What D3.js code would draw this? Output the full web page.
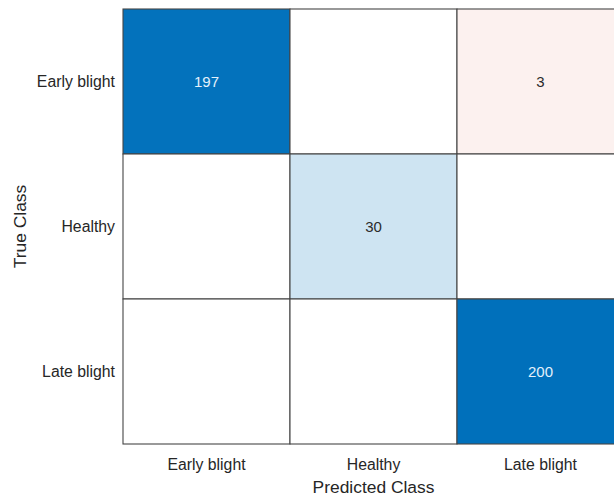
<!DOCTYPE html>
<html>
<head>
<meta charset="utf-8">
<script src="https://cdn.jsdelivr.net/npm/d3@7"></script>
<style>
  html, body { margin: 0; padding: 0; background: #fff; }
  svg { display: block; font-family: "Liberation Sans", Arial, Helvetica, sans-serif; }
</style>
</head>
<body>
<svg id="chart" width="614" height="499"></svg>
<script>
// Class names (rows = true class, columns = predicted class)
const classes = ["Early blight", "Healthy", "Late blight"];
// Confusion counts, row by row
const rowEarly = [197, 0, 3];
const rowHealthy = [0, 30, 0];
const rowLate = [0, 0, 200];
const counts = [rowEarly, rowHealthy, rowLate];

const svg = d3.select("#chart");
const margin = { left: 123, top: 9 };
const cellW = 167, cellH = 145;

const x = d3.scaleBand().domain(classes).range([margin.left, margin.left + cellW * classes.length]);
const y = d3.scaleBand().domain(classes).range([margin.top, margin.top + cellH * classes.length]);

const maxCount = d3.max(counts.flat());
// Correct predictions shade toward blue, errors toward red
const diagColor = d3.scalePow().exponent(0.87).domain([0, maxCount]).range(["#ffffff", "#0070bb"]).interpolate(d3.interpolateRgb);
const offColor = d3.scalePow().exponent(0.62).domain([0, maxCount]).range(["#ffffff", "#d9452a"]).interpolate(d3.interpolateRgb);

const cells = [];
counts.forEach((row, i) => row.forEach((v, j) => cells.push({ t: classes[i], p: classes[j], v, diag: i === j })));

const g = svg.append("g");
g.selectAll("rect.cell").data(cells).join("rect")
  .attr("class", "cell")
  .attr("x", d => x(d.p))
  .attr("y", d => y(d.t))
  .attr("width", x.bandwidth())
  .attr("height", y.bandwidth())
  .attr("fill", d => d.v === 0 ? "#ffffff" : (d.diag ? diagColor(d.v) : offColor(d.v)))
  .attr("stroke", "#454545")
  .attr("stroke-width", 1.1);

g.selectAll("text.val").data(cells.filter(d => d.v > 0)).join("text")
  .attr("class", "val")
  .attr("x", d => x(d.p) + x.bandwidth() / 2)
  .attr("y", d => y(d.t) + y.bandwidth() / 2)
  .attr("dy", "0.36em")
  .attr("text-anchor", "middle")
  .attr("font-size", 15)
  .attr("fill", d => d.v / maxCount > 0.5 ? "#e3f1fb" : "#2b2b2b")
  .text(d => d.v);

// Row labels (true class)
svg.append("g").selectAll("text").data(classes).join("text")
  .attr("x", margin.left - 8)
  .attr("y", d => y(d) + y.bandwidth() / 2)
  .attr("dy", "0.36em")
  .attr("text-anchor", "end")
  .attr("font-size", 15.8)
  .attr("fill", "#262626")
  .text(d => d);

// Column labels (predicted class)
const bottom = margin.top + cellH * classes.length;
svg.append("g").selectAll("text").data(classes).join("text")
  .attr("x", d => x(d) + x.bandwidth() / 2)
  .attr("y", bottom + 20)
  .attr("dy", "0.36em")
  .attr("text-anchor", "middle")
  .attr("font-size", 15.8)
  .attr("fill", "#262626")
  .text(d => d);

svg.append("text")
  .attr("x", (x.range()[0] + x.range()[1]) / 2)
  .attr("y", bottom + 43)
  .attr("dy", "0.36em")
  .attr("text-anchor", "middle")
  .attr("font-size", 17.4)
  .attr("fill", "#262626")
  .text("Predicted Class");

svg.append("text")
  .attr("transform", `translate(20,${margin.top + cellH * 1.5}) rotate(-90)`)
  .attr("dy", "0.36em")
  .attr("text-anchor", "middle")
  .attr("font-size", 17.4)
  .attr("fill", "#262626")
  .text("True Class");
</script>
</body>
</html>
